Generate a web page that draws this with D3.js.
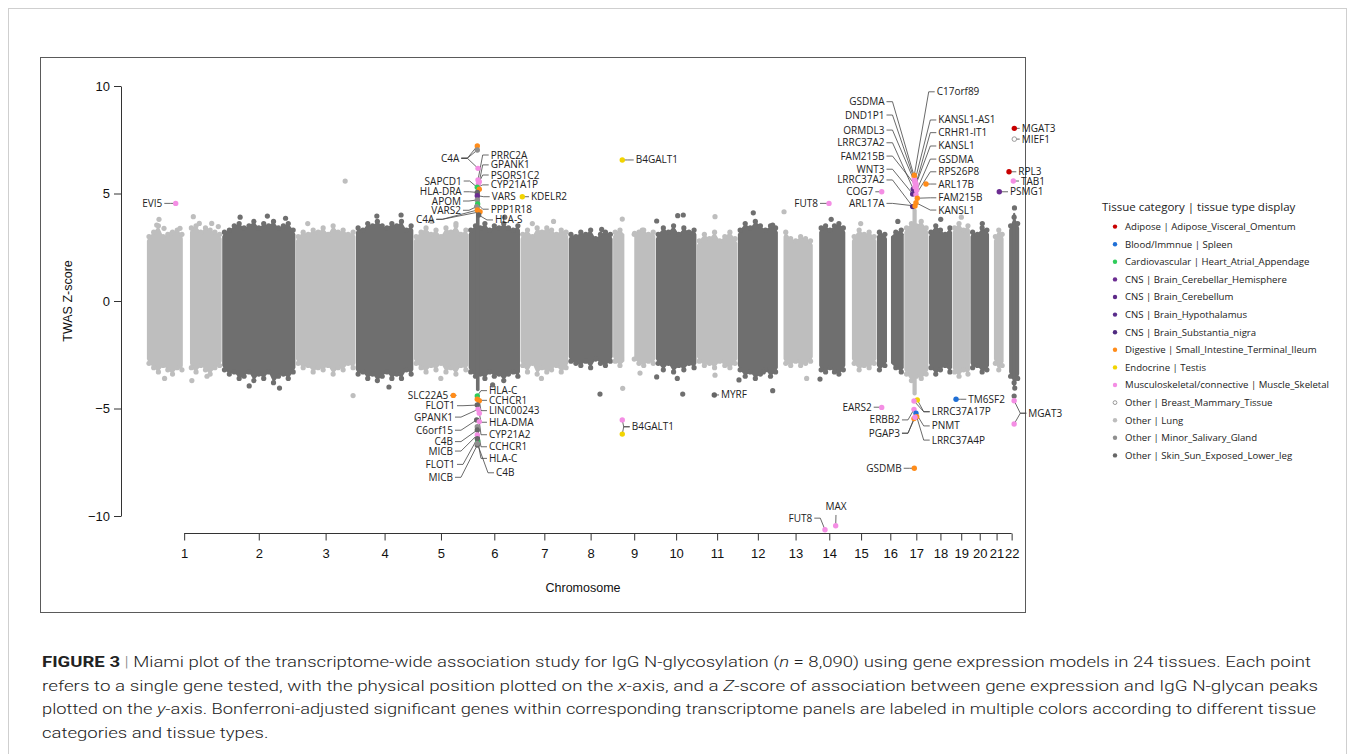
<!DOCTYPE html>
<html><head><meta charset="utf-8">
<script src="https://cdn.jsdelivr.net/npm/d3@7"></script>
<style>body{margin:0;background:#fff}svg{display:block}</style>
</head><body>
<svg id="c" width="1355" height="754"></svg>
<script>
// ---------------- DATA ----------------
const chromosomes = ["1","2","3","4","5","6","7","8","9","10","11","12","13","14","15","16","17","18","19","20","21","22"];
const chrLength = [249.25,243.2,198.02,191.15,180.92,171.12,159.14,146.36,141.21,135.53,135.01,133.85,115.17,107.35,102.53,90.35,81.2,78.08,59.13,63.03,48.13,51.3];
const chrDataStart = [0.8,0.2,0.2,0.2,0.2,0.2,0.2,0.2,0.2,0.2,0.2,0.2,17.0,19.5,20.2,0.2,0.2,0.2,0.3,0.2,14.5,16.5];
const chrGaps = [[1,121,143],[9,39,70],[16,35,46.5]];
// dense band envelopes (z-scores), spread evenly along each chromosome's data extent
const bandTop = [
 [3.0,3.2,3.5,3.0,3.1,3.2,3.3,3.1,3.0,3.4,3.5,3.2,3.4,3.3,3.2,3.1],
 [3.2,3.3,3.5,3.6,3.4,3.5,3.7,3.4,3.6,3.5,3.7,3.4,3.5,3.6,3.3],
 [3.0,3.2,3.1,3.3,3.2,3.4,3.1,3.5,3.2,3.3,3.1,3.2],
 [3.4,3.3,3.6,3.5,3.7,3.5,3.4,3.6,3.5,3.7,3.3,3.5],
 [3.0,3.2,3.4,3.1,3.3,3.0,3.4,3.2,3.5,3.1,3.3],
 [3.3,3.5,3.4,3.6,3.3,3.5,3.4,3.6,3.4,3.3,3.5],
 [3.1,3.3,3.0,3.4,3.2,3.4,3.3,3.1,3.3,3.2],
 [3.1,3.0,3.2,3.1,3.3,2.9,3.1,3.2,3.1],
 [3.2,3.3,3.1,3.0,3.1,3.2,3.3,3.1,3.2],
 [3.1,3.4,3.2,3.5,3.1,3.4,3.2,3.3],
 [2.8,3.1,2.9,3.2,2.8,3.0,3.2,2.9],
 [3.3,3.6,3.4,3.7,3.5,3.3,3.5,3.4],
 [3.2,2.9,2.8,3.0,2.9,2.8],
 [3.4,3.5,3.3,3.5,3.6,3.4],
 [3.0,3.3,3.1,3.2,3.0],
 [3.2,3.1,3.4,3.2,3.3],
 [3.4,3.6,3.5,3.7,3.4],
 [3.2,3.5,3.3,3.1,3.4],
 [3.4,3.6,3.3,3.5],
 [3.2,3.1,3.4,3.3],
 [3.0,3.3,3.1],
 [3.5,3.9,3.6]
];
const bandBot = [
 [-2.9,-3.1,-3.3,-3.0,-3.2,-3.4,-3.1,-3.2,-3.0,-3.1,-3.3,-3.0,-3.2,-3.4,-3.1,-3.0],
 [-3.2,-3.4,-3.3,-3.6,-3.5,-3.3,-3.7,-3.4,-3.6,-3.3,-3.8,-3.5,-3.4,-3.6,-3.3],
 [-2.9,-3.1,-3.0,-3.3,-3.1,-3.2,-3.0,-3.4,-3.1,-3.2,-2.9,-3.1],
 [-3.4,-3.3,-3.6,-3.4,-3.7,-3.5,-3.3,-3.6,-3.4,-3.6,-3.2,-3.4],
 [-2.9,-3.1,-3.3,-3.0,-3.2,-2.9,-3.3,-3.1,-3.4,-3.0,-3.2],
 [-3.3,-3.5,-3.4,-3.6,-3.3,-3.5,-3.4,-3.7,-3.4,-3.3,-3.5],
 [-3.0,-3.3,-2.9,-3.4,-3.1,-3.3,-3.2,-3.0,-3.3,-3.1],
 [-2.8,-2.9,-3.0,-2.8,-3.1,-2.7,-2.9,-3.0,-2.8],
 [-2.8,-3.0,-2.7,-2.8,-2.7,-2.9,-3.0,-2.8,-2.9],
 [-2.9,-3.2,-2.9,-3.3,-3.0,-3.2,-2.9,-3.1],
 [-2.8,-3.0,-2.9,-3.1,-2.8,-3.0,-3.1,-2.9],
 [-3.2,-3.5,-3.3,-3.6,-3.4,-3.2,-3.5,-3.3],
 [-2.9,-3.0,-2.8,-3.0,-2.9,-2.8],
 [-3.2,-3.3,-3.1,-3.3,-3.4,-3.2],
 [-2.9,-3.2,-3.0,-3.1,-2.9],
 [-3.2,-3.0,-3.4,-3.1,-3.3],
 [-3.4,-3.7,-3.5,-3.6,-3.4],
 [-3.1,-3.4,-3.2,-3.0,-3.3],
 [-3.3,-3.5,-3.2,-3.4],
 [-3.1,-3.0,-3.3,-3.2],
 [-2.9,-3.2,-3.0],
 [-3.5,-3.8,-3.6]
];
// narrow tall columns of genes at strong loci: [chr, from, to, top z, bottom z]
const peakColumns = [[6,25,37,5.3,-4.2],[17,28,42,4.3,-4.4],[22,30,38,4.1,-4.0]];
// sparse unlabelled genes outside the dense bands: [chr, pos, z]
const outliers = [
 [1,34.0,3.53],[1,41.6,3.8],[1,58.1,3.38],[1,83.5,3.15],[1,110.9,3.38],[1,154.8,3.92],[1,174.6,3.61],[1,215.5,3.61],[1,237.3,3.46],
 [1,60,-3.6],[1,150,-3.7],[1,200,-3.5],[2,60,3.9],[2,150,3.95],[2,210,3.85],[2,90,-3.95],[2,190,-4.05],
 [3,163.5,5.58],[3,40,3.6],[3,189.6,-4.4],[4,70,3.95],[4,150,4.0],[4,110,-4.0],[5,60,3.7],[5,140,3.6],[5,90,-3.6],
 [6,120,3.9],[6,80,-3.9],[7,40,3.6],[7,110,3.7],[7,70,-3.6],
 [8,109.7,3.33],[8,104.1,-4.33],[9,31.3,3.81],[9,72,3.15],[9,97.3,3.30],[9,32.6,-4.06],[9,89.8,-3.35],
 [10,3.6,3.72],[10,73.0,3.97],[10,91.4,4.0],[10,3.6,-3.53],[10,71.7,-3.6],[10,89.5,-4.33],
 [11,60.5,3.92],[11,60.5,-3.45],[12,51.9,4.1],[12,115.9,3.53],[12,4.7,-3.67],[12,115.9,-4.17],[12,84.9,-3.3],
 [13,19.5,4.15],[13,94.2,-3.6],[14,23.0,-3.63],[14,60,3.8],[15,50,3.6],[16,70,3.7],[18,40,3.8],[19,30,3.9],[20,40,3.6],
 [22,35,4.33],[22,33.9,-4.42],[22,36,-4.05]
];

const tissues = ["Adipose | Adipose_Visceral_Omentum","Blood/Immnue | Spleen","Cardiovascular | Heart_Atrial_Appendage","CNS | Brain_Cerebellar_Hemisphere","CNS | Brain_Cerebellum","CNS | Brain_Hypothalamus","CNS | Brain_Substantia_nigra","Digestive | Small_Intestine_Terminal_Ileum","Endocrine | Testis","Musculoskeletal/connective | Muscle_Skeletal","Other | Breast_Mammary_Tissue","Other | Lung","Other | Minor_Salivary_Gland","Other | Skin_Sun_Exposed_Lower_leg"];
const tissueColors = ["#c80000","#1f6fd6","#2fcc5a","#6b2c91","#5e2a88","#5a2d8c","#4f2a80","#ff8c1a","#f2d400","#f48ee4","#ffffff","#bdbdbd","#8f8f8f","#666666"];

// gene labels: [text, label position (cumulative Mb), label z, anchor]
const labels = [
 ["EVI5",52.5,4.54,"end"],["C4A",1032.6,6.64,"end"],["SAPCD1",1040.5,5.58,"end"],["HLA-DRA",1040.5,5.08,"end"],
 ["APOM",1038.2,4.65,"end"],["VARS2",1038.2,4.22,"end"],["C4A",950.1,3.80,"end"],["PRRC2A",1136.2,6.79,"start"],
 ["GPANK1",1136.2,6.33,"start"],["PSORS1C2",1136.2,5.86,"start"],["CYP21A1P",1136.2,5.40,"start"],["VARS",1139.5,4.85,"start"],
 ["PPP1R18",1136.2,4.27,"start"],["HLA-S",1150.4,3.77,"start"],["KDELR2",1269.2,4.85,"start"],["B4GALT1",1614.8,6.56,"start"],
 ["FUT8",2216.4,4.54,"end"],["COG7",2398.9,5.08,"end"],["GSDMA",2435.8,9.27,"end"],["DND1P1",2435.8,8.65,"end"],
 ["ORMDL3",2435.8,7.95,"end"],["LRRC37A2",2435.8,7.36,"end"],["FAM215B",2435.8,6.74,"end"],["WNT3",2435.8,6.13,"end"],
 ["LRRC37A2",2435.8,5.63,"end"],["ARL17A",2435.8,4.54,"end"],["C17orf89",2608.1,9.73,"start"],["KANSL1-AS1",2613.4,8.42,"start"],
 ["CRHR1-IT1",2613.4,7.83,"start"],["KANSL1",2613.4,7.21,"start"],["GSDMA",2613.4,6.60,"start"],["RPS26P8",2613.4,6.01,"start"],
 ["ARL17B",2613.4,5.44,"start"],["FAM215B",2613.4,4.80,"start"],["KANSL1",2613.4,4.23,"start"],["PSMG1",2850.0,5.08,"start"],
 ["MGAT3",2888.6,8.03,"start"],["MIEF1",2888.6,7.53,"start"],["RPL3",2877.4,6.01,"start"],["TAB1",2886.3,5.58,"start"],
 ["SLC22A5",996.3,-4.39,"end"],["FLOT1",1018.4,-4.87,"end"],["GPANK1",1011.8,-5.40,"end"],["C6orf15",1011.8,-6.01,"end"],
 ["C4B",1011.8,-6.54,"end"],["MICB",1011.8,-6.98,"end"],["FLOT1",1018.4,-7.60,"end"],["MICB",1011.8,-8.20,"end"],
 ["HLA-C",1130.6,-4.17,"start"],["CCHCR1",1130.6,-4.62,"start"],["LINC00243",1130.6,-5.10,"start"],["HLA-DMA",1130.6,-5.64,"start"],
 ["CYP21A2",1130.6,-6.22,"start"],["CCHCR1",1130.6,-6.78,"start"],["HLA-C",1130.6,-7.32,"start"],["C4B",1153.7,-7.99,"start"],
 ["B4GALT1",1601.6,-5.85,"start"],["MYRF",1896.3,-4.37,"start"],["FUT8",2197.5,-10.1,"end"],["MAX",2275.7,-9.72,"middle"],
 ["EARS2",2393.6,-4.94,"end"],["ERBB2",2486.9,-5.53,"end"],["PGAP3",2486.9,-6.15,"end"],["GSDMB",2492.6,-7.78,"end"],
 ["LRRC37A17P",2591.6,-5.15,"start"],["PNMT",2591.6,-5.81,"start"],["LRRC37A4P",2591.6,-6.47,"start"],["TM6SF2",2712.4,-4.57,"start"],
 ["MGAT3",2910.4,-5.22,"start"]
];
// significant genes: [label index, chr, pos (Mb), z, tissue index]
const sigGenes = [
 [1,6,29.5,7.21,7],[1,6,29.5,7.02,12],[1,6,31.8,6.17,9],[7,6,31.8,5.63,9],[8,6,36.1,5.55,9],[9,6,33.0,5.45,9],
 [10,6,29.5,5.29,2],[2,6,36.1,5.20,7],[3,6,29.5,5.05,13],[11,6,29.5,4.90,3],[4,6,29.5,4.70,12],[12,6,30.6,4.51,2],
 [5,6,27.5,4.39,12],[6,6,29.5,4.23,7],[6,6,38.4,4.15,7],[13,6,34.0,4.0,13],[14,7,6.8,4.85,8],[0,1,96.7,4.54,9],
 [15,9,31.3,6.56,8],[16,14,52.7,4.54,9],[17,16,16.8,5.08,9],
 [18,17,34.0,5.78,7],[19,17,34.0,5.66,9],[20,17,36.3,5.50,9],[21,17,30.7,5.20,4],[22,17,39.6,5.35,9],[23,17,28.7,4.98,5],
 [24,17,28.7,4.39,6],[25,17,36.3,4.42,7],[26,17,34.0,5.85,7],[27,17,36.3,5.60,9],[28,17,39.6,5.45,9],[29,17,36.3,5.30,9],
 [30,17,41.9,5.15,9],[31,17,39.6,4.95,9],[32,17,72.6,5.44,7],[33,17,43.9,4.78,7],[34,17,39.6,4.57,7],
 [36,22,34.5,8.03,0],[37,22,34.5,7.53,10],[38,22,17.0,6.01,0],[39,22,31.2,5.58,9],[35,21,33.1,5.08,3],
 [40,5,131.2,-4.39,7],[48,6,29.5,-4.42,2],[49,6,29.5,-4.57,7],[50,6,36.1,-4.64,7],[41,6,29.5,-4.84,13],[42,6,31.8,-5.04,9],
 [51,6,36.1,-5.22,9],[43,6,27.5,-5.53,13],[52,6,36.1,-5.61,9],[53,6,29.5,-5.85,12],[44,6,29.5,-6.0,13],[45,6,29.5,-6.23,9],
 [54,6,30.6,-6.51,2],[46,6,29.5,-6.40,13],[47,6,29.5,-6.70,13],[55,6,29.5,-6.62,12],
 [56,9,31.3,-5.53,9],[56,9,31.3,-6.19,8],[57,11,58.2,-4.37,13],[58,14,39.5,-10.64,9],[59,14,74.8,-10.45,9],[60,16,16.8,-4.95,9],
 [64,17,43.9,-4.60,8],[64,17,33.0,-4.65,9],[61,17,33.0,-5.04,9],[65,17,39.6,-5.22,1],[66,17,41.9,-5.38,7],[62,17,33.0,-5.47,7],
 [62,17,36.3,-5.41,9],[63,17,34.0,-7.78,7],[67,19,12.4,-4.57,1],[68,22,33.9,-4.64,9],[68,22,33.9,-5.72,9]
];
const yTicks = [-10,-5,0,5,10];
const captionLines = [
 [["FIGURE 3","b"],[" | ","bar"],["Miami plot of the transcriptome-wide association study for IgG N-glycosylation (",""],["n","i"],[" = 8,090) using gene expression models in 24 tissues. Each point",""]],
 [["refers to a single gene tested, with the physical position plotted on the ",""],["x","i"],["-axis, and a ",""],["Z","i"],["-score of association between gene expression and IgG N-glycan peaks",""]],
 [["plotted on the ",""],["y","i"],["-axis. Bonferroni-adjusted significant genes within corresponding transcriptome panels are labeled in multiple colors according to different tissue",""]],
 [["categories and tissue types.",""]]
];
const captionWidths = [1269,1276,1274,null];

// ---------------- DRAW ----------------
const svg = d3.select("#c");
const cumStart = []; let acc = 0;
chrLength.forEach(l => { cumStart.push(acc); acc += l; });
const total = acc;
const x = d3.scaleLinear().domain([0,total]).range([146.4,146.4+total*0.30302]);
const y = d3.scaleLinear().domain([-10,10]).range([516,86]);
const gx = (c,p) => x(cumStart[c-1]+p);
const lightC = "#bebebe", darkC = "#6f6f6f";
const bandColor = i => i%2===0 ? lightC : darkC;

svg.append("rect").attr("x",8.5).attr("y",8.5).attr("width",1338).attr("height",800).attr("fill","none").attr("stroke","#cfcfcf");
svg.append("rect").attr("x",40.5).attr("y",57.5).attr("width",985).attr("height",555).attr("fill","none").attr("stroke","#5a5a5a");

const gBand = svg.append("g");
const area = d3.area().x(d=>x(d.p)).y0(d=>y(d.b)).y1(d=>y(d.t));
chromosomes.forEach((name,i) => {
  const c = i+1, s = chrDataStart[i], e = chrLength[i];
  const n = bandTop[i].length;
  const samples = bandTop[i].map((t,k) => ({p: cumStart[i] + s + (k+0.5)*(e-s)/n, t, b: bandBot[i][k]}));
  let segs = [[s,e]];
  chrGaps.filter(g=>g[0]===c).forEach(g => { segs = segs.flatMap(([a,b]) => (g[1]<b && g[2]>a) ? [[a,g[1]],[g[2],b]] : [[a,b]]); });
  const col = bandColor(i);
  segs.forEach(([a,b]) => {
    const A = cumStart[i]+a, B = cumStart[i]+b;
    const inside = samples.filter(d => d.p>=A && d.p<=B);
    if (!inside.length) return;
    const f = inside[0], l = inside[inside.length-1];
    const pts = [{p:A+0.8,t:f.t-0.2,b:f.b+0.2}, ...inside, {p:B-0.8,t:l.t-0.2,b:l.b+0.2}];
    gBand.append("path").datum(pts).attr("d",area).attr("fill",col);
    inside.forEach(d => {
      gBand.append("circle").attr("cx",x(d.p)).attr("cy",y(d.t)).attr("r",2.6).attr("fill",col);
      gBand.append("circle").attr("cx",x(d.p)).attr("cy",y(d.b)).attr("r",2.6).attr("fill",col);
    });
  });
});
peakColumns.forEach(([c,a,b,t,bt]) => {
  gBand.append("rect").attr("x",gx(c,a)).attr("width",gx(c,b)-gx(c,a)).attr("y",y(t)).attr("height",y(bt)-y(t))
    .attr("fill",bandColor(c-1)).attr("rx",2);
});
outliers.forEach(([c,p,z]) => {
  gBand.append("circle").attr("cx",gx(c,p)).attr("cy",y(z)).attr("r",2.6).attr("fill",bandColor(c-1));
});

// axes
const fontAx = "'Liberation Sans', Arial, sans-serif";
const yAxis = svg.append("g").attr("transform","translate(121,0)")
  .call(d3.axisLeft(y).tickValues(yTicks).tickSize(7).tickSizeOuter(0).tickPadding(4));
yAxis.selectAll("text").attr("font-family",fontAx).attr("font-size",13).attr("fill","#111");
yAxis.selectAll("line,path").attr("stroke","#333");
const mids = chromosomes.map((n,i)=>cumStart[i]+chrLength[i]/2);
const xAxis = svg.append("g").attr("transform","translate(0,533.5)")
  .call(d3.axisBottom(x).tickValues(mids).tickFormat((d,i)=>chromosomes[i]).tickSize(7).tickPadding(8));
xAxis.select(".domain").remove();
xAxis.append("line").attr("x1",x(mids[0])).attr("x2",x(mids[21])).attr("stroke","#333");
xAxis.selectAll("text").attr("font-family",fontAx).attr("font-size",13).attr("fill","#111");
xAxis.selectAll(".tick line").attr("stroke","#333");
svg.append("text").attr("x",583).attr("y",592).attr("text-anchor","middle").attr("font-family",fontAx).attr("font-size",12.5).attr("fill","#111").text("Chromosome");
svg.append("text").attr("transform","translate(72,301) rotate(-90)").attr("text-anchor","middle").attr("font-family",fontAx).attr("font-size",12.5).attr("fill","#111").text("TWAS Z-score");

// leaders + labels
const fontLb = "'Open Sans', 'Noto Sans', sans-serif";
const gLead = svg.append("g"), gPts = svg.append("g"), gLab = svg.append("g");
sigGenes.forEach(([li,c,p,z,t]) => {
  const L = labels[li];
  const px = gx(c,p), py = y(z), lx = x(L[1]), ly = y(L[2]);
  let path;
  if (L[3]==="end") path = `M${px},${py}L${lx+8},${ly}L${lx+2},${ly}`;
  else if (L[3]==="start") path = `M${px},${py}L${lx-8},${ly}L${lx-2},${ly}`;
  else path = `M${px},${py}L${lx},${ly+5}`;
  gLead.append("path").attr("d",path).attr("fill","none").attr("stroke","#444").attr("stroke-width",0.8);
});
sigGenes.forEach(([li,c,p,z,t]) => {
  gPts.append("circle").attr("cx",gx(c,p)).attr("cy",y(z)).attr("r",t===10?2.3:2.7)
    .attr("fill",tissueColors[t]).attr("stroke",t===10?"#9a9a9a":"none").attr("stroke-width",1);
});
labels.forEach(L => {
  gLab.append("text").attr("x",x(L[1])).attr("y",y(L[2])).attr("dy", L[3]==="middle" ? "0" : "0.35em")
    .attr("text-anchor",L[3]).attr("font-family",fontLb).attr("font-size",10).attr("fill","#222").text(L[0]);
});

// legend
const gLeg = svg.append("g");
gLeg.append("text").attr("x",1102).attr("y",211).attr("font-family",fontLb).attr("font-size",11.5).attr("fill","#222").text("Tissue category | tissue type display");
tissues.forEach((tn,i) => {
  const yy = 226.6 + i*17.6;
  gLeg.append("circle").attr("cx",1115).attr("cy",yy).attr("r",i===10?1.9:2.2).attr("fill",tissueColors[i]).attr("stroke",i===10?"#9a9a9a":"none");
  gLeg.append("text").attr("x",1125).attr("y",yy).attr("dy","0.35em").attr("font-family",fontLb).attr("font-size",9.6).attr("fill","#222").text(tn);
});

// caption
const fontCap = "Roboto, 'Liberation Sans', sans-serif";
const capNodes = captionLines.map((parts,i) => {
  const t = svg.append("text").attr("x",42).attr("y",667+i*23.5).attr("font-family",fontCap).attr("font-size",15.5).attr("font-weight",300).attr("fill","#222");
  parts.forEach(([s,st]) => {
    const ts = t.append("tspan").text(s);
    if (st==="b") ts.attr("font-weight",700);
    if (st==="i") ts.attr("font-style","italic");
    if (st==="bar") ts.attr("fill","#888");
  });
  return t;
});
let ratioSum = 0, ratioN = 0;
capNodes.forEach((t,i) => { if (captionWidths[i]) { ratioSum += captionWidths[i]/t.node().getComputedTextLength(); ratioN++; } });
const ratio = ratioSum/ratioN;
capNodes.forEach((t,i) => {
  const w = captionWidths[i] || t.node().getComputedTextLength()*ratio;
  t.attr("textLength",w).attr("lengthAdjust","spacingAndGlyphs");
});
</script>
</body></html>
